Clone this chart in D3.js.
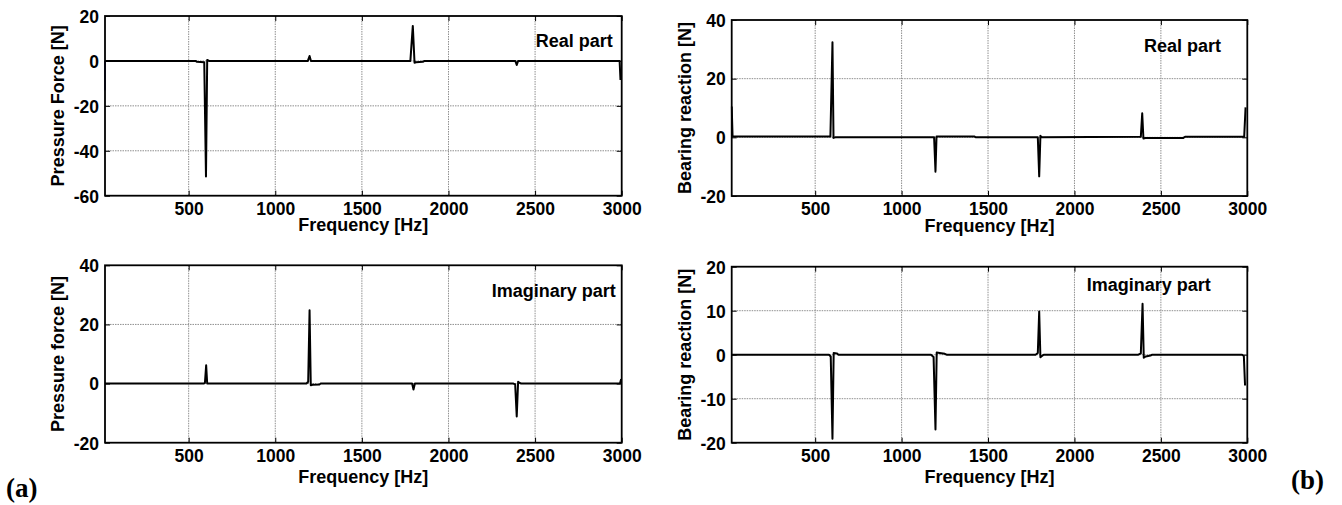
<!DOCTYPE html>
<html><head><meta charset="utf-8">
<script src="https://cdn.jsdelivr.net/npm/d3@7"></script>
<style>
body{margin:0;background:#fff}
text{font-family:"Liberation Sans",Arial,sans-serif;font-weight:bold;fill:#000}
</style>
</head><body>
<svg id="c" width="1342" height="505"></svg>
<script>
// ---------- data ----------
const freqDomain = [17, 3000];
const xTicks = [500, 1000, 1500, 2000, 2500, 3000];
const xTitle = "Frequency [Hz]";

// (a) Pressure force, real part
const aRealFreq = [17, 540, 548, 590, 600, 607, 618, 1188, 1198, 1206, 1780, 1794, 1804, 1812, 1852, 1862, 2386, 2394, 2402, 2988, 2993];
const aRealVal  = [0, 0, -0.4, -0.6, -51.5, 0.4, 0, 0, 2.2, 0, 0, 15.6, -0.8, -0.6, -0.4, 0, 0, -1.8, 0, 0, -8.5];
const aEdgeFreq = [17, 17];
const aEdgeVal  = [0, -13];
const aRealTicks = [-60, -40, -20, 0, 20];

// (a) Pressure force, imaginary part
const aImagFreq = [17, 588, 594, 601, 607, 1180, 1190, 1198, 1205, 1215, 1255, 1262, 1790, 1798, 1806, 2375, 2385, 2394, 2402, 2412, 2420, 2990, 2997];
const aImagVal  = [0, 0, 0.3, 6.2, 0, 0, 0.6, 24.8, -0.6, -0.4, -0.3, 0, 0, -2.0, 0, 0, -0.3, -11.1, 0.6, 0.2, 0, 0, 1.5];
const aImagTicks = [-20, 0, 20, 40];

// (b) Bearing reaction, real part
const bRealFreq = [17, 22, 588, 600, 606, 616, 1188, 1196, 1202, 1420, 1430, 1788, 1796, 1803, 1812, 2384, 2392, 2399, 2410, 2630, 2640, 2982, 2990];
const bRealVal  = [10.5, 0.3, 0.3, 32.4, -0.2, 0, 0, -11.7, 0.3, 0.3, 0, 0, -13.3, 0.5, 0, 0.2, 8.2, -0.4, -0.2, -0.2, 0.2, 0.2, 10.2];
const bRealTicks = [-20, 0, 20, 40];

// (b) Bearing reaction, imaginary part
const bImagFreq = [17, 580, 590, 600, 607, 625, 635, 1170, 1185, 1196, 1203, 1220, 1250, 1260, 1775, 1788, 1796, 1803, 1812, 1822, 2370, 2384, 2394, 2401, 2412, 2440, 2450, 2970, 2980, 2987];
const bImagVal  = [0, 0, -0.4, -19.1, 0.4, 0.3, 0, 0, -0.5, -17.0, 0.5, 0.4, 0.2, 0, 0, 0.4, 9.8, -0.6, -0.3, 0, 0, 0.3, 11.6, -0.7, -0.4, -0.2, 0, 0, -0.3, -7.0];
const bImagTicks = [-20, -10, 0, 10, 20];

// ---------- layout ----------
const panels = [
  {l:105, r:621.7, t:16, b:195.7, yDom:[-60,20], yTicks:aRealTicks, yTitle:"Pressure Force [N]",
   freq:aRealFreq, val:aRealVal, note:"Real part", noteDx:9, noteDy:30.7, titleDy:35.5,
   extra:{freq:aEdgeFreq, val:aEdgeVal, color:"#1a1aa0"}},
  {l:731.7, r:1247.3, t:20, b:196, yDom:[-20,40], yTicks:bRealTicks, yTitle:"Bearing reaction [N]",
   freq:bRealFreq, val:bRealVal, note:"Real part", noteDx:26.3, noteDy:31.7, titleDy:35.5},
  {l:105, r:621.7, t:265.3, b:442.7, yDom:[-20,40], yTicks:aImagTicks, yTitle:"Pressure force [N]",
   freq:aImagFreq, val:aImagVal, note:"Imaginary part", noteDx:6, noteDy:31.4, titleDy:40},
  {l:731.7, r:1247.3, t:266.7, b:442.7, yDom:[-20,20], yTicks:bImagTicks, yTitle:"Bearing reaction [N]",
   freq:bImagFreq, val:bImagVal, note:"Imaginary part", noteDx:36.6, noteDy:24, titleDy:40}
];

const svg = d3.select("#c");
const fmt = d => String(d);

panels.forEach(p => {
  const x = d3.scaleLinear().domain(freqDomain).range([p.l, p.r]);
  const y = d3.scaleLinear().domain(p.yDom).range([p.b, p.t]);
  const g = svg.append("g");

  // grid
  g.append("g").selectAll("line").data(xTicks.filter(d => d < freqDomain[1])).join("line")
    .attr("x1", d => x(d)).attr("x2", d => x(d)).attr("y1", p.t).attr("y2", p.b)
    .attr("stroke", "#8f8f8f").attr("stroke-width", 1).attr("stroke-dasharray", "1.5,1");
  g.append("g").selectAll("line").data(p.yTicks.filter(d => d > p.yDom[0] && d < p.yDom[1])).join("line")
    .attr("x1", p.l).attr("x2", p.r).attr("y1", d => y(d)).attr("y2", d => y(d))
    .attr("stroke", "#8f8f8f").attr("stroke-width", 1).attr("stroke-dasharray", "1.5,1");

  // axes (inward ticks, MATLAB style)
  const tl = 5;
  const ax = g.append("g").attr("transform", `translate(0,${p.b})`)
    .call(d3.axisBottom(x).tickValues(xTicks).tickSize(-tl).tickPadding(7).tickFormat(fmt));
  const axT = g.append("g").attr("transform", `translate(0,${p.t})`)
    .call(d3.axisTop(x).tickValues(xTicks).tickSize(-tl).tickFormat(""));
  const ay = g.append("g").attr("transform", `translate(${p.l},0)`)
    .call(d3.axisLeft(y).tickValues(p.yTicks).tickSize(-tl).tickPadding(6).tickFormat(fmt));
  const ayR = g.append("g").attr("transform", `translate(${p.r},0)`)
    .call(d3.axisRight(y).tickValues(p.yTicks).tickSize(-tl).tickFormat(""));
  [ax, axT, ay, ayR].forEach(a => {
    a.select(".domain").remove();
    a.selectAll(".tick line").attr("stroke", "#000").attr("stroke-width", 1);
    a.selectAll(".tick text").style("font-size", "17.5px").attr("fill", "#000");
  });
  ax.selectAll(".tick text").attr("dy", "0.71em");
  ay.selectAll(".tick text").attr("dy", "0.36em");

  // data
  const line = d3.line().x(d => x(d[0])).y(d => y(d[1]));
  const pts = p.freq.map((f, i) => [f, p.val[i]]);
  const clipId = "clip" + Math.round(p.l) + "_" + Math.round(p.t);
  svg.append("clipPath").attr("id", clipId).append("rect")
    .attr("x", p.l - 1).attr("y", p.t).attr("width", p.r - p.l + 2).attr("height", p.b - p.t);
  if (p.extra) {
    g.append("path").datum(p.extra.freq.map((f, i) => [f, p.extra.val[i]]))
      .attr("d", line).attr("fill", "none").attr("stroke", p.extra.color).attr("stroke-width", 1.5);
  }
  g.append("path").datum(pts).attr("d", line).attr("clip-path", `url(#${clipId})`)
    .attr("fill", "none").attr("stroke", "#000").attr("stroke-width", 2).attr("stroke-linejoin", "round");

  // frame
  g.append("rect").attr("x", p.l).attr("y", p.t).attr("width", p.r - p.l).attr("height", p.b - p.t)
    .attr("fill", "none").attr("stroke", "#000").attr("stroke-width", 1.8);

  // titles
  g.append("text").attr("x", (p.l + p.r) / 2).attr("y", p.b + p.titleDy)
    .attr("text-anchor", "middle").style("font-size", "18px").text(xTitle);
  g.append("text").attr("transform", `translate(${p.l - 41},${(p.t + p.b) / 2}) rotate(-90)`)
    .attr("text-anchor", "middle").style("font-size", "18px").text(p.yTitle);
  g.append("text").attr("x", p.r - p.noteDx).attr("y", p.t + p.noteDy)
    .attr("text-anchor", "end").style("font-size", "18px").text(p.note);
});

// panel labels
svg.append("text").attr("x", 6).attr("y", 497)
  .style("font-family", "'Liberation Serif','Times New Roman',serif").style("font-size", "27px").text("(a)");
svg.append("text").attr("x", 1291).attr("y", 489)
  .style("font-family", "'Liberation Serif','Times New Roman',serif").style("font-size", "27px").text("(b)");
</script>
</body></html>
